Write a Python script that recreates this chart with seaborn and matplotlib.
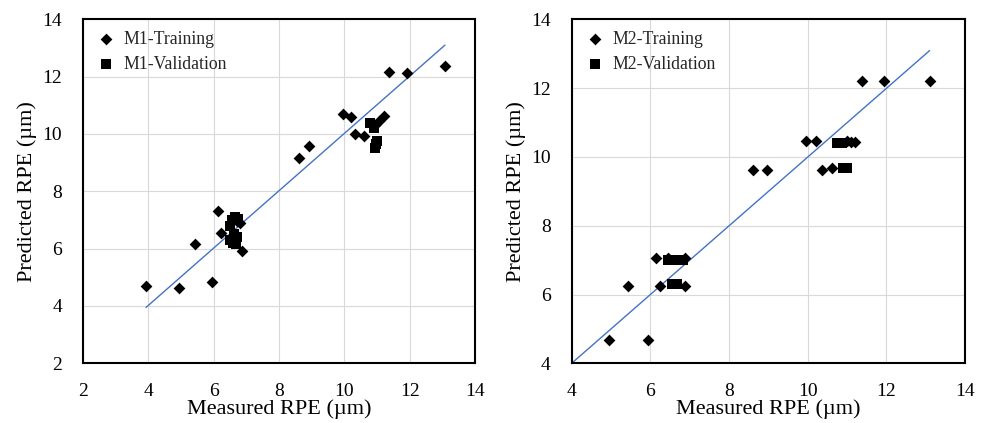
import numpy as np
import pandas as pd
import matplotlib
matplotlib.use("Agg")
import matplotlib.pyplot as plt
import seaborn as sns

# ---- data ----
m1_train_x = [3.93, 4.95, 5.94, 5.44, 6.12, 6.24, 6.88, 6.82, 8.61, 8.93, 9.95, 10.19, 10.34, 10.59,
              11.20, 11.36, 11.91, 13.08, 11.05, 10.95, 6.55, 6.70]
m1_train_y = [4.70, 4.64, 4.83, 6.15, 7.31, 6.53, 5.92, 6.90, 9.17, 9.59, 10.70, 10.58, 10.01, 9.93,
              10.64, 12.16, 12.14, 12.37, 10.45, 10.30, 6.35, 6.95]
m1_val_x = [6.50, 6.55, 6.65, 6.75, 6.50, 6.60, 6.70, 6.62, 6.68, 10.78, 10.90, 11.00, 10.95, 10.97]
m1_val_y = [6.80, 7.00, 7.10, 7.05, 6.30, 6.20, 6.40, 6.50, 6.15, 10.40, 10.22, 9.75, 9.50, 9.65]
m1_trend_x = [3.93, 13.08]
m1_trend_y = [3.95, 13.10]

m2_train_x = [4.96, 5.93, 5.44, 6.14, 6.25, 6.89, 6.87, 6.46, 8.62, 8.96, 9.95, 10.21, 10.36, 10.61,
              11.00, 11.10, 11.20, 11.38, 11.93, 13.10]
m2_train_y = [4.68, 4.68, 6.25, 7.07, 6.25, 6.25, 7.07, 7.07, 9.61, 9.61, 10.45, 10.45, 9.61, 9.69,
              10.45, 10.42, 10.42, 12.21, 12.21, 12.21]
m2_val_x = [6.46, 6.59, 6.72, 6.82, 6.54, 6.67, 10.74, 10.87, 10.90, 11.00]
m2_val_y = [7.00, 7.00, 7.00, 7.00, 6.30, 6.30, 10.40, 10.40, 9.69, 9.69]
m2_trend_x = [4.00, 13.10]
m2_trend_y = [4.00, 13.09]

x_label = "Measured RPE (\u00b5m)"
y_label = "Predicted RPE (\u00b5m)"

sns.set_theme(style="white")
plt.rcParams['font.family'] = ['Liberation Serif', 'DejaVu Serif']

fig = plt.figure(figsize=(9.89, 4.23), dpi=100)
ax1 = fig.add_axes([0.0839, 0.1411, 0.3964, 0.8132])
ax2 = fig.add_axes([0.5780, 0.1411, 0.3977, 0.8132])

def panel(ax, name, tx, ty, vx, vy, lx, ly, lims):
    sns.lineplot(x=lx, y=ly, ax=ax, color="#4472C4", linewidth=1.0, zorder=2)
    sns.scatterplot(x=tx, y=ty, ax=ax, marker="D", color="black", s=36,
                    linewidth=0, zorder=3, label=f"{name}-Training")
    sns.scatterplot(x=vx, y=vy, ax=ax, marker="s", color="black", s=48,
                    linewidth=0, zorder=3, label=f"{name}-Validation")
    ax.set_xlim(lims[0], 14)
    ax.set_ylim(lims[1], 14)
    ax.set_xticks(np.arange(lims[0], 15, 2))
    ax.set_yticks(np.arange(lims[1], 15, 2))
    ax.grid(True, color="#d9d9d9", linewidth=0.8)
    ax.set_axisbelow(True)
    for sp in ax.spines.values():
        sp.set_color("black")
        sp.set_linewidth(1.5)
    ax.tick_params(axis="both", length=0, labelsize=14, colors="black")
    ax.tick_params(axis="x", pad=14)
    ax.tick_params(axis="y", pad=15)
    ax.set_xlabel(x_label, fontsize=16, color="black", labelpad=0)
    ax.set_ylabel(y_label, fontsize=16, color="black", labelpad=4)
    h, l = ax.get_legend_handles_labels()
    ax.legend(h[-2:], l[-2:], loc="upper left", frameon=False, fontsize=12.8,
              handletextpad=0.35, borderaxespad=0.35, labelspacing=0.45,
              handlelength=1.3, markerscale=1.0, borderpad=0.3)

panel(ax1, "M1", m1_train_x, m1_train_y, m1_val_x, m1_val_y, m1_trend_x, m1_trend_y, (2, 2))
panel(ax2, "M2", m2_train_x, m2_train_y, m2_val_x, m2_val_y, m2_trend_x, m2_trend_y, (4, 4))

fig.savefig("out.png", dpi=100)
